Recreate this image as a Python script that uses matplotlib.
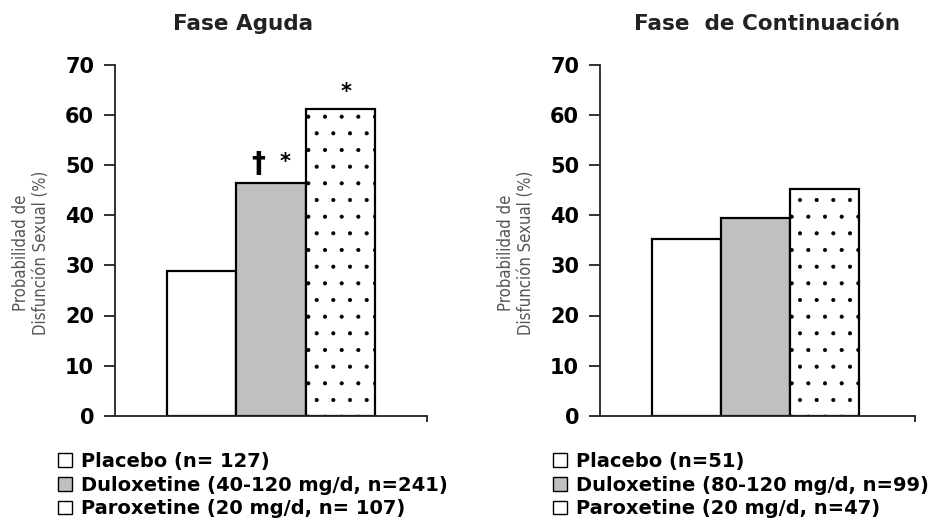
import matplotlib
matplotlib.use("Agg")
import matplotlib.pyplot as plt
from matplotlib.patches import Patch

# Data
groups = ["Placebo", "Duloxetine", "Paroxetine"]
acute_values = [28.9, 46.4, 61.2]
continuation_values = [35.3, 39.4, 45.3]
acute_labels = ["Placebo (n= 127)", "Duloxetine (40-120 mg/d, n=241)", "Paroxetine (20 mg/d, n= 107)"]
continuation_labels = ["Placebo (n=51)", "Duloxetine (80-120 mg/d, n=99)", "Paroxetine (20 mg/d, n=47)"]
titles = ["Fase Aguda", "Fase  de Continuación"]
yticks = [0, 10, 20, 30, 40, 50, 60, 70]
ylabel = "Probabilidad de\nDisfunción Sexual (%)"

face_colors = ["white", "#c0c0c0", "white"]
hatches = [None, None, "."]

plt.rcParams["hatch.linewidth"] = 0.5
plt.rcParams["hatch.color"] = "black"

fig = plt.figure(figsize=(9.43, 5.19), dpi=100)
W, H = 943, 519


def ax_rect(x0, x1, ytop, ybot):
    return [x0 / W, 1 - ybot / H, (x1 - x0) / W, (ybot - ytop) / H]


ax_left = fig.add_axes(ax_rect(115, 427, 65, 415.7))
ax_right = fig.add_axes(ax_rect(600, 915, 65, 415.7))

tick_font = dict(family=["DejaVu Sans"], weight="bold", size=15)


def draw_panel(ax, values, xlim, title, title_x):
    positions = list(range(len(values)))
    for p, v, fc, h in zip(positions, values, face_colors, hatches):
        ax.bar(p, v, width=1.0, color=fc, edgecolor="black", linewidth=1.6,
               hatch=h, zorder=2)
    ax.set_xlim(*xlim)
    ax.set_ylim(0, 70)
    ax.set_yticks(yticks)
    ax.set_yticklabels([str(t) for t in yticks], fontdict=tick_font)
    ax.set_xticks([xlim[1]])
    ax.set_xticklabels([""])
    ax.tick_params(axis="y", direction="out", length=8, width=1.3, pad=7, color="#222222")
    ax.tick_params(axis="x", direction="out", length=4, width=1.3, color="#222222")
    for s in ["top", "right"]:
        ax.spines[s].set_visible(False)
    for s in ["left", "bottom"]:
        ax.spines[s].set_linewidth(1.3)
        ax.spines[s].set_color("#222222")
    ax.patch.set_alpha(0)
    fig.text(title_x / W, 1 - 24 / H, title, ha="center", va="center",
             family=["DejaVu Sans"], weight="bold", size=15.5,
             color="#222222")


draw_panel(ax_left, acute_values, (-1.245, 3.25), titles[0], 243)
draw_panel(ax_right, continuation_values, (-1.254, 3.31), titles[1], 767)

# Significance markers on the acute phase
ax_left.text(1 - 0.18, acute_values[1] + 1.0, "†", ha="center", va="bottom",
             family=["DejaVu Sans"], weight="bold", size=20)
ax_left.text(1 + 0.21, acute_values[1] + 4.2, "*", ha="center", va="center",
             family=["DejaVu Sans"], weight="bold", size=15)
ax_left.text(2 + 0.09, acute_values[2] + 3.4, "*", ha="center", va="center",
             family=["DejaVu Sans"], weight="bold", size=15)

# Y-axis labels
for xc in (31, 516):
    fig.text(xc / W, 1 - 253 / H, ylabel, rotation=90, ha="center", va="center",
             family=["DejaVu Sans"], size=12, stretch="condensed",
             color="#555555", linespacing=1.1)

# Legends
for labels, x0 in ((acute_labels, 58), (continuation_labels, 553)):
    handles = [Patch(facecolor=fc, edgecolor="black", linewidth=1.0, hatch=h)
               for fc, h in zip(face_colors, hatches)]
    fig.legend(handles, labels, loc="upper left",
               bbox_to_anchor=(x0 / W, 1 - 452 / H), frameon=False,
               prop=dict(family=["DejaVu Sans"], weight="bold", size=14),
               handlelength=0.72, handleheight=0.72, handletextpad=0.45,
               labelspacing=0.24, borderpad=0, borderaxespad=0)

fig.savefig("out.png", dpi=100)
